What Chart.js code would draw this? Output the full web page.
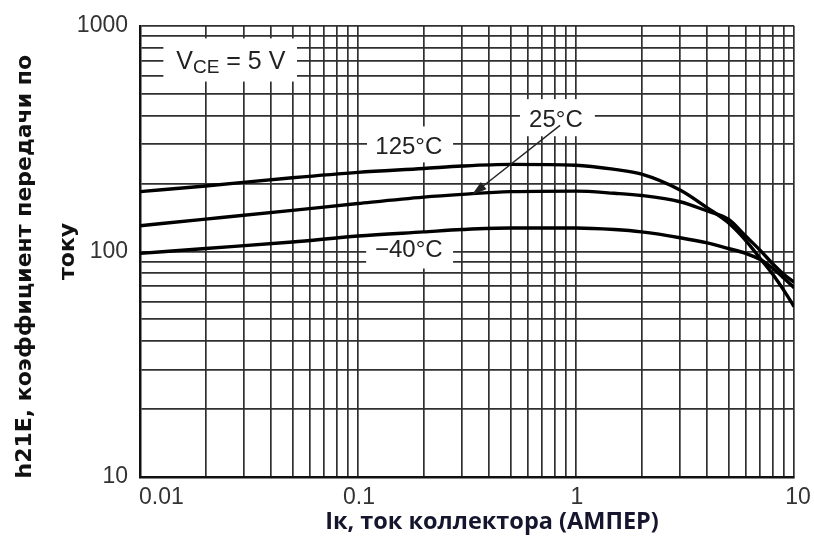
<!DOCTYPE html>
<html>
<head>
<meta charset="utf-8">
<script src="https://cdn.jsdelivr.net/npm/chart.js@4.4.0/dist/chart.umd.min.js"></script>
<style>
  html, body { margin: 0; padding: 0; background: #fff; }
</style>
</head>
<body>
<canvas id="gainChart" width="814" height="538"></canvas>
<script>
// collector current, A
const currents = [0.01, 0.02, 0.05, 0.1, 0.2, 0.3, 0.5, 1, 1.5, 2, 3, 4, 5, 6, 7, 8, 9, 10];
// h21E
const gain125 = [184, 195, 212, 224, 233, 239, 243, 241, 231, 220, 187, 156, 134, 112, 93, 79, 67, 57];
const gain25 = [130, 139, 152, 163, 174, 179, 184, 185, 181, 177, 166, 151, 139, 117, 101, 88, 79, 73];
const gainMinus40 = [98, 103, 110, 117, 122, 125, 127, 127, 125, 122, 115, 109, 103, 98, 92, 84, 76, 69];

// log grid: 1..9 in each decade
const mantissas = [1, 2, 3, 4, 5, 6, 7, 8, 9];
const xDecades = [0.01, 0.1, 1];
const yDecades = [10, 100];
const xTickLabels = ["0.01", "0.1", "1", "10"];
const yTickLabels = ["10", "100", "1000"];

const xTitle = "Iк, ток коллектора (АМПЕР)";
// trailing spaces nudge the first line down a little, as in the original
const yTitle = ["h21E, коэффициент передачи по    ", "току"];

function gridValues(decades, last) {
  const out = [];
  decades.forEach(d => mantissas.forEach(m => out.push(+(d * m).toPrecision(3))));
  out.push(last);
  return out;
}
const xGrid = gridValues(xDecades, 10);
const yGrid = gridValues(yDecades, 1000);

// label boxes in data units: [xFrom, xTo, yFrom, yTo]
const notes = [
  { text: "125°C", x: 0.171, y: 288, box: [0.110, 0.273, 248, 358] },
  { text: "25°C", x: 0.809, y: 380, box: [0.553, 1.22, 324, 473] },
  { text: "\u221240°C", x: 0.171, y: 101, box: [0.109, 0.273, 84, 121] }
];
const vceNote = { x: 0.0261, y: 692, box: [0.0128, 0.0525, 566, 879] };
const arrow = { from: [0.845, 362], to: [0.333, 178] };

const notesPlugin = {
  id: "notes",
  beforeDatasetsDraw(chart) {
    const { ctx, scales: { x, y } } = chart;
    ctx.save();
    ctx.fillStyle = "#fff";
    notes.concat([vceNote]).forEach(n => {
      const x0 = x.getPixelForValue(n.box[0]);
      const x1 = x.getPixelForValue(n.box[1]);
      const y0 = y.getPixelForValue(n.box[3]);
      const y1 = y.getPixelForValue(n.box[2]);
      ctx.fillRect(x0, y0, x1 - x0, y1 - y0);
    });
    ctx.restore();
  },
  afterDatasetsDraw(chart) {
    const { ctx, scales: { x, y } } = chart;
    ctx.save();
    ctx.fillStyle = "#222";
    ctx.textBaseline = "middle";
    ctx.textAlign = "center";
    ctx.font = "24px 'Liberation Sans', Arial, sans-serif";
    notes.forEach(n => {
      ctx.fillText(n.text, x.getPixelForValue(n.x), y.getPixelForValue(n.y));
    });

    // V_CE = 5 V with subscript
    const big = "25px 'Liberation Sans', Arial, sans-serif";
    const small = "19px 'Liberation Sans', Arial, sans-serif";
    ctx.font = big;
    const wV = ctx.measureText("V").width;
    const wRest = ctx.measureText(" = 5 V").width;
    ctx.font = small;
    const wSub = ctx.measureText("CE").width;
    const cx = x.getPixelForValue(vceNote.x);
    const cy = y.getPixelForValue(vceNote.y);
    let px = cx - (wV + wSub + wRest) / 2;
    ctx.textAlign = "left";
    ctx.font = big;
    ctx.fillText("V", px, cy);
    px += wV;
    ctx.font = small;
    ctx.fillText("CE", px, cy + 6);
    px += wSub;
    ctx.font = big;
    ctx.fillText(" = 5 V", px, cy);

    // arrow pointing at 25°C curve
    const ax0 = x.getPixelForValue(arrow.from[0]), ay0 = y.getPixelForValue(arrow.from[1]);
    const ax1 = x.getPixelForValue(arrow.to[0]), ay1 = y.getPixelForValue(arrow.to[1]);
    const ang = Math.atan2(ay1 - ay0, ax1 - ax0);
    ctx.strokeStyle = "#222";
    ctx.lineWidth = 1.4;
    ctx.beginPath();
    ctx.moveTo(ax0, ay0);
    ctx.lineTo(ax1 - 10 * Math.cos(ang), ay1 - 10 * Math.sin(ang));
    ctx.stroke();
    ctx.beginPath();
    ctx.moveTo(ax1, ay1);
    ctx.lineTo(ax1 - 15 * Math.cos(ang) + 4.5 * Math.sin(ang), ay1 - 15 * Math.sin(ang) - 4.5 * Math.cos(ang));
    ctx.lineTo(ax1 - 15 * Math.cos(ang) - 4.5 * Math.sin(ang), ay1 - 15 * Math.sin(ang) + 4.5 * Math.cos(ang));
    ctx.closePath();
    ctx.fill();
    ctx.restore();
  },
  afterDraw(chart) {
    const { ctx, chartArea, scales: { x } } = chart;
    ctx.save();
    ctx.fillStyle = "#333";
    ctx.textBaseline = "middle";
    ctx.font = "23px 'Liberation Sans', Arial, sans-serif";
    xTickLabels.forEach((t, i) => {
      ctx.textAlign = i === 0 ? "left" : "center";
      const off = i === 0 ? -1 : (i === xTickLabels.length - 1 ? 4 : 1);
      ctx.fillText(t, x.getPixelForValue(+t) + off, chartArea.bottom + 21);
    });
    ctx.fillStyle = "#15152e";
    ctx.textAlign = "center";
    ctx.font = "bold 23.5px 'Open Sans', Lato, sans-serif";
    ctx.fillText(xTitle, (chartArea.left + chartArea.right) / 2 + 25, chartArea.bottom + 45);
    ctx.restore();
  }
};

const makeSet = (label, values) => ({
  label: label,
  data: currents.map((c, i) => ({ x: c, y: values[i] })),
  borderColor: "#000",
  borderWidth: 3.4,
  pointRadius: 0,
  fill: false,
  cubicInterpolationMode: "monotone"
});

new Chart(document.getElementById("gainChart").getContext("2d"), {
  type: "line",
  data: {
    datasets: [
      makeSet("125°C", gain125),
      makeSet("25°C", gain25),
      makeSet("-40°C", gainMinus40)
    ]
  },
  options: {
    responsive: false,
    animation: false,
    events: [],
    layout: { padding: { left: 0, top: 15, right: 20, bottom: 0 } },
    plugins: {
      legend: { display: false },
      tooltip: { enabled: false }
    },
    scales: {
      x: {
        type: "logarithmic",
        min: 0.01,
        max: 10,
        afterBuildTicks: s => { s.ticks = xGrid.map(v => ({ value: v })); },
        afterFit: s => { s.height = 61; },
        ticks: { display: false, autoSkip: false },
        grid: { color: "#303030", lineWidth: 1.7, drawTicks: false },
        border: { color: "#111", width: 2.5 }
      },
      y: {
        type: "logarithmic",
        min: 10,
        max: 1000,
        afterBuildTicks: s => { s.ticks = yGrid.map(v => ({ value: v })); },
        afterFit: s => { s.width = 140; },
        ticks: {
          autoSkip: false,
          padding: 12,
          color: "#333",
          font: { family: "'Liberation Sans', Arial, sans-serif", size: 23 },
          callback: v => (yTickLabels.includes(String(v)) ? String(v) : "")
        },
        grid: { color: "#303030", lineWidth: 1.7, drawTicks: false },
        border: { color: "#111", width: 2.5 },
        title: {
          display: true,
          text: yTitle,
          color: "#111",
          padding: { top: 4, bottom: 0 },
          font: { family: "'DejaVu Sans', sans-serif", size: 22, weight: "bold", lineHeight: 1.95 }
        }
      }
    }
  },
  plugins: [notesPlugin]
});
</script>
</body>
</html>
